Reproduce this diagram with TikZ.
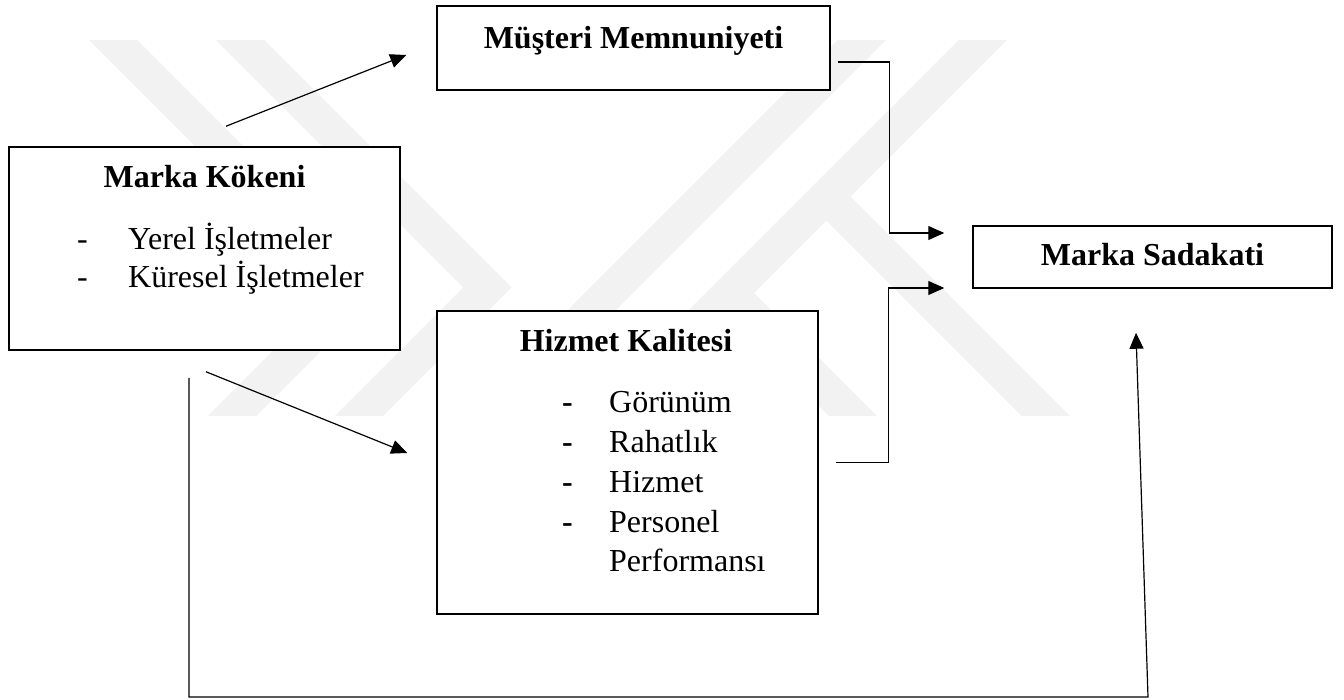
\documentclass[tikz,border=0pt]{standalone}
\usepackage{fontspec}
\setmainfont{Liberation Serif}
\usetikzlibrary{arrows.meta}

\tikzset{
  box/.style={draw,line width=1.5pt,fill=white,inner sep=0pt},
  ttl/.style={font=\fontsize{32}{38}\selectfont\bfseries,inner sep=0pt,anchor=base},
  itm/.style={font=\fontsize{32}{38}\selectfont,inner sep=0pt,anchor=base west},
  conn/.style={line width=1.2pt,-{Triangle[length=16pt,width=14pt]}},
  wm/.style={line width=34pt,black!5,miter limit=20}
}

\begin{document}
\begin{tikzpicture}[x=1pt,y=-1pt]
  \useasboundingbox (0,0) rectangle (1344,699);
  % watermark behind the boxes
  \begin{scope}
    \clip (0,40) rectangle (1344,415);
    \draw[wm] (83,10) -- (360.5,287.5) -- (203,445);
    \draw[wm] (210,10) -- (487.5,287.5) -- (330,445);
    \draw[wm] (892,10) -- (457,445);
    \draw[wm] (1013,10) -- (578,445);
    \draw[wm] (826.5,196.5) -- (1075,445);
    \draw[wm] (730,293) -- (882,445);
  \end{scope}

  % boxes
  \node[box,minimum width=391pt,minimum height=203pt] (mk) at (204.5,248.5) {};
  \node[box,minimum width=393pt,minimum height=84pt] (mm) at (633.5,48) {};
  \node[box,minimum width=381pt,minimum height=303pt] (hk) at (627.5,462.5) {};
  \node[box,minimum width=359pt,minimum height=62pt] (ms) at (1152.5,257) {};

  % texts
  \node[ttl] (mkT) at (204.5,187) {Marka Kökeni};
  \node[itm] (mkD1) at (77,249) {-};
  \node[itm] (mkI1) at (128,249) {Yerel İşletmeler};
  \node[itm] (mkD2) at (77,287) {-};
  \node[itm] (mkI2) at (128,287) {Küresel İşletmeler};
  \node[ttl] (mmT) at (633.5,48) {Müşteri Memnuniyeti};
  \node[ttl] (hkT) at (626,351) {Hizmet Kalitesi};
  \foreach \t [count=\i] in {Görünüm,Rahatlık,Hizmet,Personel} {
    \node[itm] (hkD\i) at (562,{372+40*\i}) {\textbf{-}};
    \node[itm] (hkI\i) at (609,{372+40*\i}) {\t};
  }
  \node[itm] (hkI5) at (609,571) {Performansı};
  \node[ttl] (msT) at (1152.5,265) {Marka Sadakati};

  % connector ends
  \coordinate (mkUp) at ([xshift=21.5pt,yshift=20pt]mk.north);
  \coordinate (mmIn) at ([xshift=-30pt,yshift=-7pt]mm.west);
  \coordinate (mkDn) at ([xshift=1.5pt,yshift=-21pt]mk.south);
  \coordinate (hkIn) at ([xshift=-29pt,yshift=9.5pt]hk.west);
  \coordinate (mmOut) at ([xshift=7pt,yshift=-14pt]mm.east);
  \coordinate (msIn1) at ([xshift=-28pt,yshift=24pt]ms.west);
  \coordinate (hkOut) at ([xshift=17pt]hk.east);
  \coordinate (msIn2) at ([xshift=-28pt,yshift=-31pt]ms.west);
  \coordinate (mkDn2) at ([xshift=-15.5pt,yshift=-27pt]mk.south);
  \coordinate (msUp) at ([xshift=-16.5pt,yshift=-44pt]ms.south);
  \coordinate (botL) at (189,697);
  \coordinate (botR) at (1148,697);

  % connectors
  \draw[conn] (mkUp) -- (mmIn);
  \draw[conn] (mkDn) -- (hkIn);
  \draw[conn] (mmOut) -- ++(52,0) |- (msIn1);
  \draw[conn] (hkOut) -- ++(53,0) |- (msIn2);
  \draw[conn] (mkDn2) -- (botL) -- (botR) -- (msUp);
\end{tikzpicture}
\end{document}
